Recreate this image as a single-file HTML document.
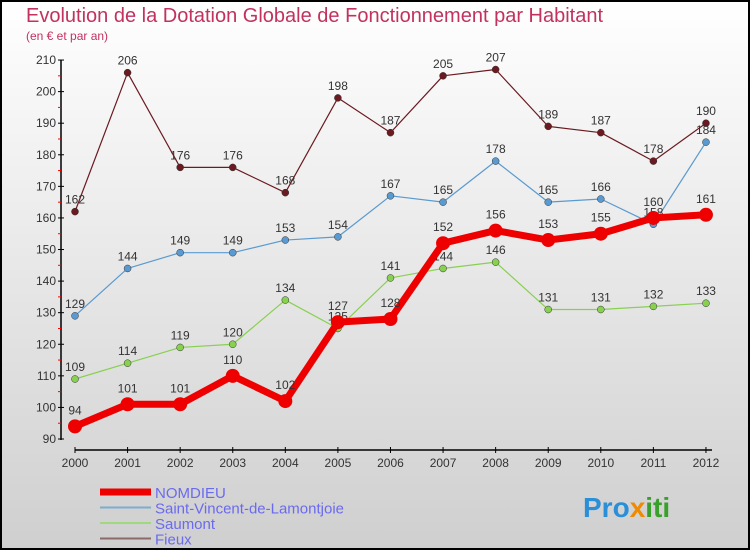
<!DOCTYPE html>
<html><head><meta charset="utf-8"><style>
body{margin:0}
svg{display:block;font-family:"Liberation Sans",sans-serif}
</style></head><body>
<svg id="c" width="750" height="550">
<defs><linearGradient id="bg" x1="0" y1="0" x2="0" y2="1"><stop offset="0" stop-color="#ffffff"/><stop offset="1" stop-color="#cfcfcf"/></linearGradient></defs>
<rect x="1" y="1" width="748" height="548" fill="url(#bg)" stroke="#000" stroke-width="2"/>
<text x="26" y="22" font-size="20" fill="#c2325f">Evolution de la Dotation Globale de Fonctionnement par Habitant</text>
<text x="26" y="40" font-size="12" fill="#c2325f">(en € et par an)</text>
<g id="axes"></g><g id="series"></g><g id="legend"></g>
<text x="583" y="517" font-size="28" font-weight="bold" fill="#2a8fd8">Pro<tspan fill="#f08a00">x</tspan><tspan fill="#3aa02c">iti</tspan></text>
</svg>
<script>
const years=[2000,2001,2002,2003,2004,2005,2006,2007,2008,2009,2010,2011,2012];
const yTicks=[90,100,110,120,130,140,150,160,170,180,190,200,210];
const nomdieu=[94,101,101,110,102,127,128,152,156,153,155,160,161];
const stVincent=[129,144,149,149,153,154,167,165,178,165,166,158,184];
const saumont=[109,114,119,120,134,125,141,144,146,131,131,132,133];
const fieux=[162,206,176,176,168,198,187,205,207,189,187,178,190];
const NS="http://www.w3.org/2000/svg";
const X=i=>75+i*52.58, Y=v=>439-(v-90)*3.158;
function el(t,a,p){const e=document.createElementNS(NS,t);for(const k in a)e.setAttribute(k,a[k]);p.appendChild(e);return e;}
const ax=document.getElementById('axes');
let yl=el('line',{x1:61,y1:60,x2:61,y2:440,stroke:'#000','stroke-width':1.5},ax);


yTicks.forEach(v=>{
 el('line',{x1:58,y1:Y(v),x2:64,y2:Y(v),stroke:'#000'},ax);
 if(v<210)el('line',{x1:58,y1:Y(v+5),x2:61,y2:Y(v+5),stroke:'#f00'},ax);
 const t=el('text',{x:56,y:Y(v)+4,'font-size':12,fill:'#333','text-anchor':'end'},ax);t.textContent=v;
 
 
});
let xl=el('line',{x1:75,y1:450,x2:712,y2:450,stroke:'#000','stroke-width':1.5},ax);


years.forEach((y,i)=>{
 el('line',{x1:X(i),y1:447,x2:X(i),y2:453,stroke:'#000'},ax);
 const t=el('text',{x:X(i),y:467,'font-size':12,fill:'#333','text-anchor':'middle'},ax);t.textContent=y;
 
 
});
const S=document.getElementById('series');
function draw(vals,color,w,r,name,lblOff){
 const g=el('g',{},S);
 
 
 el('polyline',{points:vals.map((v,i)=>X(i)+','+Y(v)).join(' '),fill:'none',stroke:color,'stroke-width':w,'stroke-linejoin':'round'},g);
 vals.forEach((v,i)=>{
  const c=el('circle',{cx:X(i),cy:Y(v),r:r,fill:color,stroke:r>4?'none':'#333','stroke-width':0.5},g);
  
  
  const t=el('text',{x:X(i),y:Y(v)-lblOff,'font-size':12,fill:'#333','text-anchor':'middle'},g);t.textContent=v;
  
  
 });
}
draw(fieux,'#6b1a20',1.2,3.5,'fieux',8);
draw(saumont,'#88d050',1.2,3.5,'saumont',8);
draw(stVincent,'#5a9ad0',1.2,3.5,'saint-vincent',8);
draw(nomdieu,'#ee0000',7,7,'nomdieu',12);
const L=document.getElementById('legend');
[['NOMDIEU','#ee0000',7,'nomdieu'],['Saint-Vincent-de-Lamontjoie','#7aaed0',2,'saint-vincent'],['Saumont','#a0d880',2,'saumont'],['Fieux','#8c6a6a',2,'fieux']].forEach((d,i)=>{
 const y=492+i*15.5;
 const g=el('g',{},L);
 
 
 el('line',{x1:100,y1:y,x2:151,y2:y,stroke:d[1],'stroke-width':d[2]},g);
 const t=el('text',{x:155,y:y+6,'font-size':15,fill:'#6a6af0'},g);t.textContent=d[0];
});
</script>
</body></html>
